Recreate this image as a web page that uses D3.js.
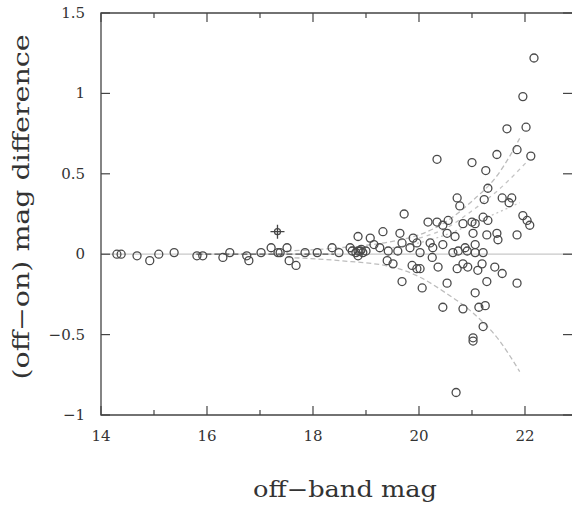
<!DOCTYPE html>
<html>
<head>
<meta charset="utf-8">
<script src="https://cdn.jsdelivr.net/npm/d3@7"></script>
<style>
  body { margin: 0; background: #fff; }
  text { font-family: "DejaVu Serif", "Liberation Serif", serif; fill: #333; }
</style>
</head>
<body>
<div id="vis"></div>
<script>
// values
const offMag = [14.30,14.38,14.68,14.92,15.09,15.38,15.81,15.92,16.30,16.43,16.75,16.79,17.02,17.21,17.34,17.38,17.51,17.55,17.68,17.85,18.08,18.36,18.49,18.70,
  18.74,18.81,18.85,18.89,18.91,18.94,19.00,18.85,18.85,19.08,19.15,19.26,19.32,19.42,19.40,19.51,19.60,19.64,19.68,19.72,19.68,19.83,19.89,19.96,19.87,19.96,
  20.02,20.02,20.06,20.17,20.21,20.25,20.26,20.34,20.34,20.36,20.45,20.45,20.45,20.53,20.53,20.55,20.64,20.68,20.72,20.72,20.74,20.70,20.77,20.83,20.83,20.83,
  20.87,20.91,20.92,21.00,21.00,21.02,21.02,21.02,21.06,21.06,21.06,21.06,21.11,21.13,21.19,21.21,21.21,21.21,21.23,21.25,21.26,21.28,21.28,21.30,21.30,21.43,
  21.47,21.47,21.49,21.57,21.57,21.66,21.70,21.75,21.85,21.85,21.85,21.96,21.96,22.02,22.04,22.09,22.11,22.17];
const magDiff = [0,0,-0.01,-0.04,0,0.01,-0.01,-0.01,-0.02,0.01,-0.01,-0.04,0.01,0.04,0.01,0.01,0.04,-0.04,-0.07,0.01,0.01,0.04,0.01,0.04,
  0.02,0.01,0.02,0.02,0.03,0.01,0.02,-0.01,0.11,0.10,0.06,0.04,0.14,0.02,-0.04,-0.06,0.02,0.13,0.07,0.25,-0.17,0.04,0.10,0.07,-0.07,-0.09,
  0.01,-0.09,-0.21,0.20,0.07,-0.02,0.04,0.20,0.59,-0.08,0.18,0.06,-0.33,0.13,-0.18,0.21,0.01,0.11,0.35,-0.09,0.02,-0.86,0.30,0.19,-0.06,-0.34,
  0.04,0.02,-0.08,0.20,0.57,0.13,-0.52,-0.54,0.19,0.06,0.01,-0.24,-0.10,-0.33,-0.06,0.23,0.01,-0.45,0.34,-0.32,0.52,0.12,-0.17,0.41,0.21,-0.08,
  0.62,0.13,0.09,0.35,-0.12,0.78,0.32,0.35,0.65,0.12,-0.18,0.98,0.24,0.79,0.21,0.18,0.61,1.22];

// the single cross-marked object
const crossPt = [17.33, 0.14];

// envelope curves
const upperOuterX = [17.5, 18.5, 19.5, 20, 20.5, 21, 21.5, 21.9];
const upperOuterY = [0.02, 0.04, 0.08, 0.12, 0.2, 0.33, 0.5, 0.72];
const upperMidX = [20, 20.5, 21, 21.5, 22.05];
const upperMidY = [0.1, 0.16, 0.27, 0.4, 0.58];
const upperInnerX = [19.5, 20, 20.5, 21.15, 21.9];
const upperInnerY = [0.04, 0.07, 0.12, 0.21, 0.32];
const lowerX = [17.5, 18.5, 19.5, 20, 20.5, 21, 21.5, 21.9];
const lowerY = [-0.02, -0.04, -0.08, -0.14, -0.24, -0.36, -0.53, -0.73];
const medianX = [15.8, 18.4];
const medianY = [0, 0];

const xMajor = [14, 16, 18, 20, 22];
const xMinor = [15, 17, 19, 21];
const yTicks = [-1, -0.5, 0, 0.5, 1, 1.5];

const width = 573, height = 506;
const pLeft = 101, pRight = 572, pTop = 13, pBottom = 415;

const svg = d3.select('#vis').append('svg')
  .attr('width', width)
  .attr('height', height);

const x = d3.scaleLinear().domain([14, 22.887]).range([pLeft, pRight]);
const y = d3.scaleLinear().domain([-1, 1.5]).range([pBottom, pTop]);

const g = svg.append('g');

// zero line
g.append('line')
  .attr('x1', x(14)).attr('x2', pRight)
  .attr('y1', y(0)).attr('y2', y(0))
  .attr('stroke', '#c8c8c8').attr('stroke-width', 1.3);

const line = d3.line().curve(d3.curveMonotoneX);
function curve(xs, ys, color, dash) {
  g.append('path')
    .attr('d', line(xs.map((v, i) => [x(v), y(ys[i])])))
    .attr('fill', 'none')
    .attr('stroke', color)
    .attr('stroke-width', 1.3)
    .attr('stroke-dasharray', dash);
}
curve(upperOuterX, upperOuterY, '#bdbdbd', '5,3');
curve(upperMidX, upperMidY, '#c4c4c4', '4,4');
curve(upperInnerX, upperInnerY, '#c4c4c4', '2,3');
curve(lowerX, lowerY, '#bdbdbd', '5,3');
curve(medianX, medianY, '#555', '6,3');

// frame
const axisColor = '#444';
g.append('path')
  .attr('d', `M${pRight},${pTop}H${pLeft}V${pBottom}H${pRight}`)
  .attr('fill', 'none').attr('stroke', axisColor).attr('stroke-width', 1.3);

// x ticks top and bottom
xMajor.forEach(v => {
  g.append('line').attr('x1', x(v)).attr('x2', x(v)).attr('y1', pBottom).attr('y2', pBottom - 9)
    .attr('stroke', axisColor).attr('stroke-width', 1.2);
  g.append('line').attr('x1', x(v)).attr('x2', x(v)).attr('y1', pTop).attr('y2', pTop + 9)
    .attr('stroke', axisColor).attr('stroke-width', 1.2);
  g.append('text').attr('x', x(v)).attr('y', 441)
    .attr('text-anchor', 'middle').attr('font-size', 15).text(v);
});
xMinor.forEach(v => {
  g.append('line').attr('x1', x(v)).attr('x2', x(v)).attr('y1', pBottom).attr('y2', pBottom - 5)
    .attr('stroke', axisColor).attr('stroke-width', 1.2);
  g.append('line').attr('x1', x(v)).attr('x2', x(v)).attr('y1', pTop).attr('y2', pTop + 5)
    .attr('stroke', axisColor).attr('stroke-width', 1.2);
});

// y ticks left and right
yTicks.forEach(v => {
  g.append('line').attr('x1', pLeft).attr('x2', pLeft + 9).attr('y1', y(v)).attr('y2', y(v))
    .attr('stroke', axisColor).attr('stroke-width', 1.2);
  g.append('line').attr('x1', pRight).attr('x2', pRight - 9).attr('y1', y(v)).attr('y2', y(v))
    .attr('stroke', axisColor).attr('stroke-width', 1.2);
  g.append('text').attr('x', 85).attr('y', y(v) + 5)
    .attr('text-anchor', 'end').attr('font-size', 15)
    .text(v < 0 ? '\u2212' + Math.abs(v) : v);
});

// points
g.selectAll('circle.pt')
  .data(offMag.map((v, i) => [v, magDiff[i]]))
  .enter()
  .append('circle')
  .attr('class', 'pt')
  .attr('cx', d => x(d[0]))
  .attr('cy', d => y(d[1]))
  .attr('r', 4)
  .attr('fill', 'none')
  .attr('stroke', '#4a4a4a')
  .attr('stroke-width', 1.3);

// cross marker
const cx = x(crossPt[0]), cy = y(crossPt[1]);
g.append('path').attr('d', `M${cx - 7},${cy}H${cx + 7}M${cx},${cy - 7}V${cy + 7}`)
  .attr('stroke', '#444').attr('stroke-width', 1.3);
g.append('circle').attr('cx', cx).attr('cy', cy).attr('r', 3)
  .attr('fill', 'none').attr('stroke', '#444').attr('stroke-width', 1.2);

// axis titles
svg.append('text')
  .attr('x', 345).attr('y', 497)
  .attr('text-anchor', 'middle').attr('font-size', 22)
  .attr('textLength', 184).attr('lengthAdjust', 'spacingAndGlyphs')
  .text('off\u2212band mag');

svg.append('text')
  .attr('transform', 'translate(29,207) rotate(-90)')
  .attr('text-anchor', 'middle').attr('font-size', 22)
  .attr('textLength', 345).attr('lengthAdjust', 'spacingAndGlyphs')
  .text('(off\u2212on) mag difference');
</script>
</body>
</html>
